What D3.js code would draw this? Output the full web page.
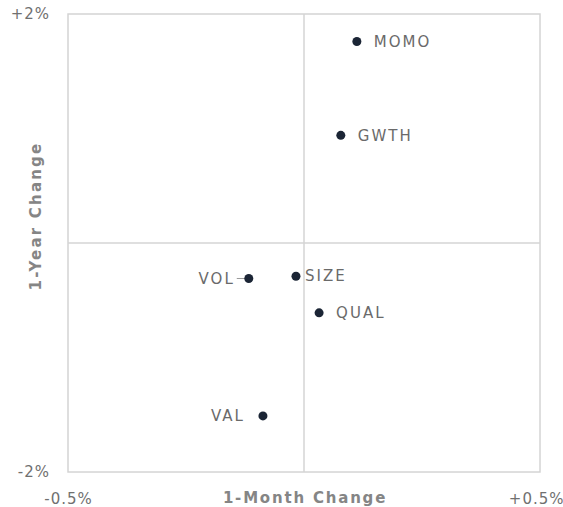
<!DOCTYPE html>
<html>
<head>
<meta charset="utf-8">
<script src="https://cdn.jsdelivr.net/npm/d3@7"></script>
<style>
  body { margin: 0; background: #fff; }
  svg text { font-family: "DejaVu Sans", sans-serif; }
</style>
</head>
<body>
<div id="chart"></div>
<script>
// factor names, 1-month change (%), 1-year change (%)
var factors   = ["MOMO", "GWTH", "SIZE", "VOL", "QUAL", "VAL"];
var oneMonth  = [0.112, 0.078, -0.017, -0.117, 0.032, -0.087];
var oneYear   = [1.76, 0.94, -0.29, -0.31, -0.61, -1.51];
var labelSide = ["right", "right", "right", "left", "right", "left"];

var xTicks = [-0.5, 0.5], xTickLabels = ["-0.5%", "+0.5%"];
var yTicks = [-2, 2],     yTickLabels = ["-2%", "+2%"];

var margin = {top: 14, right: 23, bottom: 35, left: 68},
    width = 563 - margin.left - margin.right,
    height = 507 - margin.top - margin.bottom;

var svg = d3.select("#chart").append("svg")
    .attr("width", 563)
    .attr("height", 507)
  .append("g")
    .attr("transform", "translate(" + margin.left + "," + margin.top + ")");

var x = d3.scaleLinear().domain([-0.5, 0.5]).range([0, width]);
var y = d3.scaleLinear().domain([-2, 2]).range([height, 0]);

var gridColor = "#d4d4d4";

// frame
svg.append("rect")
    .attr("x", 0).attr("y", 0)
    .attr("width", width).attr("height", height)
    .attr("fill", "none")
    .attr("stroke", gridColor)
    .attr("stroke-width", 1.5);

// quadrant lines
svg.append("line")
    .attr("x1", x(0)).attr("x2", x(0))
    .attr("y1", 0).attr("y2", height)
    .attr("stroke", gridColor).attr("stroke-width", 1.5);
svg.append("line")
    .attr("x1", 0).attr("x2", width)
    .attr("y1", y(0)).attr("y2", y(0))
    .attr("stroke", gridColor).attr("stroke-width", 1.5);

// axes (labels only at the ends)
var xAxis = d3.axisBottom(x).tickValues(xTicks)
    .tickFormat(function(d, i) { return xTickLabels[i]; }).tickSize(0).tickPadding(21);
var yAxis = d3.axisLeft(y).tickValues(yTicks)
    .tickFormat(function(d, i) { return yTickLabels[i]; }).tickSize(0).tickPadding(18);

var gx = svg.append("g").attr("transform", "translate(0," + height + ")").call(xAxis);
var gy = svg.append("g").call(yAxis);
[gx, gy].forEach(function(g) {
  g.select(".domain").remove();
  g.selectAll("text")
    .style("font-size", "15px")
    .style("letter-spacing", "1px")
    .attr("fill", "#707070");
});
// keep the right-hand label inside the window
gx.selectAll("text").filter(function(d) { return d === 0.5; })
    .attr("text-anchor", "end")
    .attr("x", 24);

// axis titles
svg.append("text")
    .attr("x", x(0) + 1)
    .attr("y", height + 31)
    .attr("text-anchor", "middle")
    .style("font-size", "15px")
    .style("font-weight", "bold")
    .style("letter-spacing", "1.8px")
    .attr("fill", "#858585")
    .text("1-Month Change");

svg.append("text")
    .attr("transform", "translate(" + (-27) + "," + (y(0) - 27) + ") rotate(-90)")
    .attr("text-anchor", "middle")
    .style("font-size", "15px")
    .style("font-weight", "bold")
    .style("letter-spacing", "2.2px")
    .attr("fill", "#858585")
    .text("1-Year Change");

var pts = factors.map(function(f, i) {
  return {name: f, mx: oneMonth[i], yr: oneYear[i], side: labelSide[i]};
});

var node = svg.selectAll("g.pt")
    .data(pts)
  .enter().append("g")
    .attr("class", "pt")
    .attr("transform", function(d) { return "translate(" + x(d.mx) + "," + y(d.yr) + ")"; });

// small leader line for VOL
node.filter(function(d) { return d.name === "VOL"; })
  .append("line")
    .attr("x1", -12).attr("x2", 0)
    .attr("y1", 0).attr("y2", 0)
    .attr("stroke", "#9a9a9a").attr("stroke-width", 1);

node.append("circle")
    .attr("r", 4.5)
    .attr("fill", "#1b2535");

node.append("text")
    .attr("dy", ".35em")
    .attr("x", function(d) {
      if (d.name === "SIZE") return 9;
      if (d.name === "VOL") return -14;
      return d.side === "right" ? 17 : -18;
    })
    .attr("text-anchor", function(d) { return d.side === "right" ? "start" : "end"; })
    .style("font-size", "15px")
    .style("letter-spacing", "2px")
    .attr("fill", "#6a6a6a")
    .text(function(d) { return d.name; });
</script>
</body>
</html>
